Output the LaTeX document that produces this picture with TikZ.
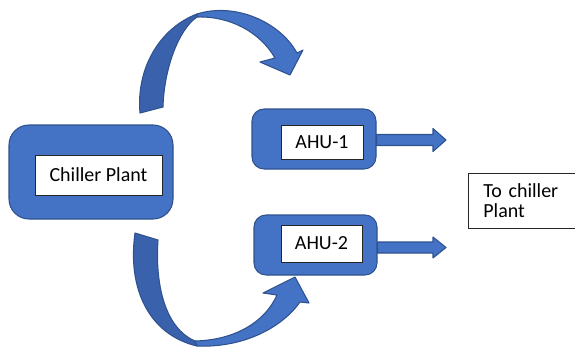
\documentclass[tikz,border=0pt]{standalone}
\usepackage{fontspec}
\setmainfont{Carlito}
\usepackage{xcolor}
\usetikzlibrary{arrows,shapes.arrows,positioning,shapes,calc}
\definecolor{unitblue}{HTML}{4472C4}
\definecolor{unitdark}{HTML}{3A62AC}
\definecolor{unitline}{HTML}{2F528F}

\begin{document}
\begin{tikzpicture}[x = .75pt, y = -.75pt,
  unit/.style = {draw = unitline, fill = unitblue, line width = .8pt, rounded corners = 9pt},
  namebox/.style = {draw = black!85, fill = white, line width = .6pt, inner sep = 0pt, font = \fontsize{15}{15}\selectfont},
  flow/.style = {draw = unitline, fill = unitblue, line width = .8pt, line join = round},
  flowback/.style = {flow, fill = unitdark}]
\useasboundingbox (0,0) rectangle (575,347);

% supply loop from the plant
\draw[flowback] (140,113) .. controls (136,68) and (160,28) .. (197,14) -- (197,17) .. controls (178,30) and (164,70) .. (163,107) -- cycle;
\draw[flow] (197,14) .. controls (235,2) and (280,22) .. (297,53) -- (303,50) -- (290,75) -- (260,62) -- (275,58) .. controls (260,32) and (230,16) .. (197,17) -- cycle;
\draw[flowback] (135,233) .. controls (127,290) and (150,335) .. (197,346) -- (195,341) .. controls (165,328) and (155,285) .. (158,240) -- cycle;
\draw[flow] (197,346) .. controls (240,348) and (280,330) .. (300,302) -- (309,303) -- (295,277) -- (263,293) -- (277,295) .. controls (265,322) and (235,340) .. (195,341) -- cycle;

\node[unit, minimum width = 123pt, minimum height = 70.5pt, rounded corners = 15pt] (plant) at (91,172) {};
\node[namebox, minimum width = 95.25pt, minimum height = 30pt] (plantname) at (98.5,175) {Chiller Plant};

\node[unit, minimum width = 93pt, minimum height = 45pt] (ahu1) at (314,139) {};
\node[namebox, minimum width = 61.5pt, minimum height = 25.5pt] (ahu1name) at (322,142) {AHU-1};
\node[unit, minimum width = 92.25pt, minimum height = 45pt] (ahu2) at (315.5,245) {};
\node[namebox, minimum width = 60.75pt, minimum height = 27.75pt] (ahu2name) at (321.5,243.5) {AHU-2};

\coordinate (out1) at (446,140);
\coordinate (out2) at (446,247.5);
\coordinate (in1) at (ahu1.east |- out1);
\coordinate (in2) at (ahu2.east |- out2);
\draw[flow] ($(in1)+(0,-5.5)$) -- ($(out1)+(-13,-5.5)$) -- ($(out1)+(-13,-11.5)$) -- (out1) -- ($(out1)+(-13,11.5)$) -- ($(out1)+(-13,5.5)$) -- ($(in1)+(0,5.5)$) -- cycle;
\draw[flow] ($(in2)+(0,-5.5)$) -- ($(out2)+(-13,-5.5)$) -- ($(out2)+(-13,-10.5)$) -- (out2) -- ($(out2)+(-13,10.5)$) -- ($(out2)+(-13,5.5)$) -- ($(in2)+(0,5.5)$) -- cycle;

\node[namebox, anchor = north west, minimum width = 81pt, minimum height = 41.25pt, text width = 69pt, inner xsep = 11.25pt, align = left] (back) at (468,173) {To chiller\\Plant};
\end{tikzpicture}
\end{document}
